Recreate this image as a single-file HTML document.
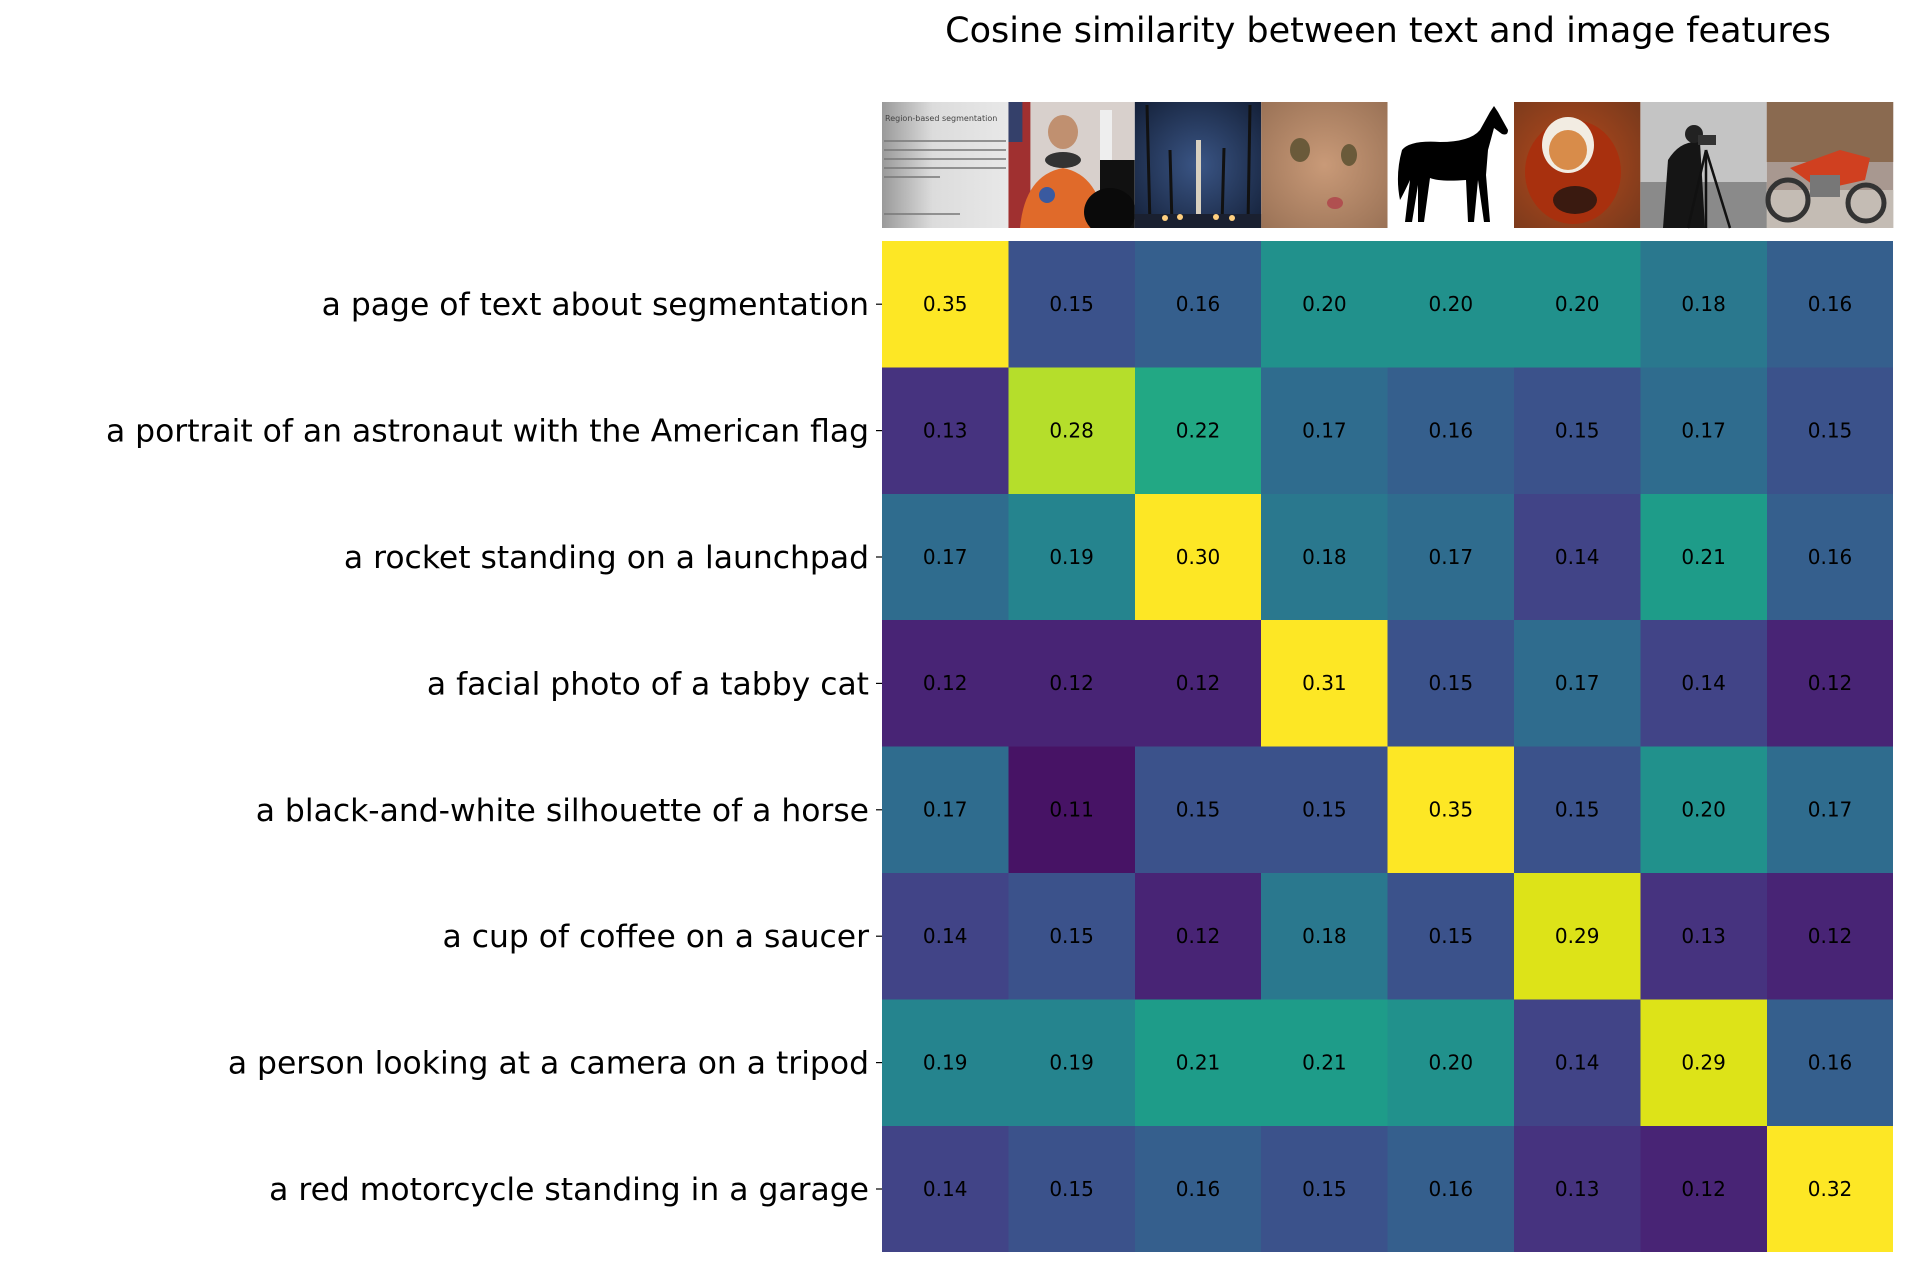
<!DOCTYPE html>
<html><head><meta charset="utf-8"><style>html,body{margin:0;padding:0;background:#fff}svg{display:block}</style></head>
<body>
<svg xmlns="http://www.w3.org/2000/svg" width="1916" height="1280" viewBox="0 0 1916 1280" font-family="DejaVu Sans, Liberation Sans, sans-serif">
<rect width="1916" height="1280" fill="#fff"/>
<text x="1388" y="42" font-size="35" text-anchor="middle" fill="#000">Cosine similarity between text and image features</text>
<defs>
<linearGradient id="pg" x1="0" x2="1"><stop offset="0" stop-color="#9a9a9a"/><stop offset="0.4" stop-color="#dcdcdc"/><stop offset="1" stop-color="#e8e8e8"/></linearGradient>
<radialGradient id="sky" cx="0.5" cy="0.5" r="0.7"><stop offset="0" stop-color="#3a5585"/><stop offset="1" stop-color="#142038"/></radialGradient>
<radialGradient id="cat" cx="0.5" cy="0.5" r="0.7"><stop offset="0" stop-color="#c99a78"/><stop offset="1" stop-color="#9a7256"/></radialGradient>
<radialGradient id="cof" cx="0.45" cy="0.5" r="0.7"><stop offset="0" stop-color="#b84a1c"/><stop offset="1" stop-color="#7a3a1c"/></radialGradient>
<clipPath id="c2"><rect x="1008.4" y="102" width="126.4" height="126"/></clipPath>
</defs>
<g>
<rect x="882" y="102" width="126.4" height="126" fill="url(#pg)"/>
<text x="885" y="121" font-size="8" fill="#444">Region-based segmentation</text>
<g stroke="#777" stroke-width="1.6">
<line x1="884" y1="141" x2="1006" y2="141"/><line x1="884" y1="150" x2="1006" y2="150"/><line x1="884" y1="159" x2="1006" y2="159"/><line x1="884" y1="168" x2="1006" y2="168"/><line x1="884" y1="177" x2="940" y2="177"/><line x1="884" y1="214" x2="960" y2="214"/>
</g>
</g>
<g clip-path="url(#c2)">
<rect x="1008.4" y="102" width="126.4" height="126" fill="#d8d0cc"/>
<rect x="1008.4" y="102" width="22" height="126" fill="#a03030"/>
<rect x="1008.4" y="102" width="14" height="40" fill="#34406a"/>
<rect x="1100" y="110" width="12" height="55" fill="#eee"/>
<rect x="1100" y="160" width="34.8" height="68" fill="#111"/>
<ellipse cx="1063" cy="132" rx="15" ry="17" fill="#c09070"/>
<path d="M1020 228 Q1025 175 1063 168 Q1100 175 1105 228 Z" fill="#e06a2a"/>
<ellipse cx="1063" cy="160" rx="18" ry="8" fill="#333"/>
<ellipse cx="1110" cy="212" rx="26" ry="24" fill="#0a0a0a"/>
<circle cx="1047" cy="195" r="8" fill="#3a5aa0"/>
</g>
<g>
<rect x="1134.8" y="102" width="126.4" height="126" fill="url(#sky)"/>
<rect x="1196" y="140" width="5" height="82" fill="#d8d0c0"/>
<g stroke="#111" stroke-width="3"><line x1="1147" y1="105" x2="1150" y2="225"/><line x1="1250" y1="105" x2="1248" y2="225"/><line x1="1170" y1="150" x2="1172" y2="225"/><line x1="1224" y1="148" x2="1222" y2="225"/></g>
<rect x="1134.8" y="214" width="126.4" height="14" fill="#1a2030"/>
<g fill="#ffd080"><circle cx="1165" cy="218" r="3"/><circle cx="1180" cy="217" r="3"/><circle cx="1216" cy="217" r="3"/><circle cx="1232" cy="218" r="3"/></g>
</g>
<g>
<rect x="1261.2" y="102" width="126.4" height="126" fill="url(#cat)"/>
<ellipse cx="1300" cy="150" rx="10" ry="12" fill="#6a5a3a"/>
<ellipse cx="1349" cy="155" rx="8" ry="11" fill="#6a5a3a"/>
<ellipse cx="1335" cy="203" rx="8" ry="6" fill="#b05050"/>
</g>
<g>
<rect x="1387.6" y="102" width="126.4" height="126" fill="#fff"/>
<path d="M1402 150 Q1410 140 1440 142 Q1470 142 1480 130 L1490 112 L1494 106 L1498 112 L1508 130 Q1508 136 1502 134 L1494 128 L1488 150 L1486 175 L1490 222 L1484 222 L1478 180 L1474 222 L1468 222 L1466 180 Q1440 182 1430 178 L1424 222 L1418 222 L1418 185 L1412 222 L1405 222 L1410 180 Q1403 195 1400 200 Q1395 175 1402 150 Z" fill="#000"/>
</g>
<g>
<rect x="1514" y="102" width="126.4" height="126" fill="url(#cof)"/>
<ellipse cx="1573" cy="172" rx="48" ry="52" fill="#a8300e"/>
<ellipse cx="1568" cy="145" rx="26" ry="28" fill="#f2ece2"/>
<ellipse cx="1568" cy="150" rx="19" ry="20" fill="#d88c4a"/>
<ellipse cx="1575" cy="200" rx="22" ry="14" fill="#3a1a10"/>
</g>
<g>
<rect x="1640.4" y="102" width="126.4" height="126" fill="#c4c4c4"/>
<rect x="1640.4" y="182" width="126.4" height="46" fill="#8a8a8a"/>
<path d="M1663 228 L1668 160 Q1680 140 1700 142 L1705 228 Z" fill="#151515"/>
<circle cx="1694" cy="134" r="9" fill="#222"/>
<rect x="1698" y="135" width="18" height="10" fill="#333"/>
<g stroke="#111" stroke-width="2.5"><line x1="1706" y1="150" x2="1688" y2="228"/><line x1="1706" y1="150" x2="1730" y2="228"/><line x1="1706" y1="150" x2="1706" y2="228"/></g>
</g>
<g>
<rect x="1766.8" y="102" width="126.4" height="126" fill="#a89890"/>
<rect x="1766.8" y="102" width="126.4" height="60" fill="#8a6a50"/>
<rect x="1766.8" y="190" width="126.4" height="38" fill="#c4bcb4"/>
<circle cx="1788" cy="200" r="20" fill="none" stroke="#333" stroke-width="5"/>
<circle cx="1866" cy="203" r="18" fill="none" stroke="#333" stroke-width="5"/>
<path d="M1790 168 L1840 150 L1870 158 L1865 180 L1820 190 Z" fill="#d04020"/>
<rect x="1810" y="175" width="30" height="22" fill="#777"/>
</g>
<g font-size="20" text-anchor="middle" fill="#000" shape-rendering="crispEdges">
<rect x="882" y="241" width="126.4" height="126.4" fill="#fde725"/><text x="945.2" y="311">0.35</text>
<rect x="1008.4" y="241" width="126.4" height="126.4" fill="#3b528b"/><text x="1071.6" y="311">0.15</text>
<rect x="1134.8" y="241" width="126.4" height="126.4" fill="#355f8d"/><text x="1198" y="311">0.16</text>
<rect x="1261.2" y="241" width="126.4" height="126.4" fill="#21918c"/><text x="1324.4" y="311">0.20</text>
<rect x="1387.6" y="241" width="126.4" height="126.4" fill="#21918c"/><text x="1450.8" y="311">0.20</text>
<rect x="1514" y="241" width="126.4" height="126.4" fill="#21918c"/><text x="1577.2" y="311">0.20</text>
<rect x="1640.4" y="241" width="126.4" height="126.4" fill="#2a788e"/><text x="1703.6" y="311">0.18</text>
<rect x="1766.8" y="241" width="126.4" height="126.4" fill="#355f8d"/><text x="1830" y="311">0.16</text>
<rect x="882" y="367.4" width="126.4" height="126.4" fill="#46337f"/><text x="945.2" y="437.4">0.13</text>
<rect x="1008.4" y="367.4" width="126.4" height="126.4" fill="#b5de2b"/><text x="1071.6" y="437.4">0.28</text>
<rect x="1134.8" y="367.4" width="126.4" height="126.4" fill="#22a884"/><text x="1198" y="437.4">0.22</text>
<rect x="1261.2" y="367.4" width="126.4" height="126.4" fill="#2f6c8e"/><text x="1324.4" y="437.4">0.17</text>
<rect x="1387.6" y="367.4" width="126.4" height="126.4" fill="#355f8d"/><text x="1450.8" y="437.4">0.16</text>
<rect x="1514" y="367.4" width="126.4" height="126.4" fill="#3b528b"/><text x="1577.2" y="437.4">0.15</text>
<rect x="1640.4" y="367.4" width="126.4" height="126.4" fill="#2f6c8e"/><text x="1703.6" y="437.4">0.17</text>
<rect x="1766.8" y="367.4" width="126.4" height="126.4" fill="#3b528b"/><text x="1830" y="437.4">0.15</text>
<rect x="882" y="493.8" width="126.4" height="126.4" fill="#2f6c8e"/><text x="945.2" y="563.8">0.17</text>
<rect x="1008.4" y="493.8" width="126.4" height="126.4" fill="#25848e"/><text x="1071.6" y="563.8">0.19</text>
<rect x="1134.8" y="493.8" width="126.4" height="126.4" fill="#fde725"/><text x="1198" y="563.8">0.30</text>
<rect x="1261.2" y="493.8" width="126.4" height="126.4" fill="#2a788e"/><text x="1324.4" y="563.8">0.18</text>
<rect x="1387.6" y="493.8" width="126.4" height="126.4" fill="#2f6c8e"/><text x="1450.8" y="563.8">0.17</text>
<rect x="1514" y="493.8" width="126.4" height="126.4" fill="#414487"/><text x="1577.2" y="563.8">0.14</text>
<rect x="1640.4" y="493.8" width="126.4" height="126.4" fill="#1e9c89"/><text x="1703.6" y="563.8">0.21</text>
<rect x="1766.8" y="493.8" width="126.4" height="126.4" fill="#355f8d"/><text x="1830" y="563.8">0.16</text>
<rect x="882" y="620.2" width="126.4" height="126.4" fill="#482475"/><text x="945.2" y="690.2">0.12</text>
<rect x="1008.4" y="620.2" width="126.4" height="126.4" fill="#482475"/><text x="1071.6" y="690.2">0.12</text>
<rect x="1134.8" y="620.2" width="126.4" height="126.4" fill="#482475"/><text x="1198" y="690.2">0.12</text>
<rect x="1261.2" y="620.2" width="126.4" height="126.4" fill="#fde725"/><text x="1324.4" y="690.2">0.31</text>
<rect x="1387.6" y="620.2" width="126.4" height="126.4" fill="#3b528b"/><text x="1450.8" y="690.2">0.15</text>
<rect x="1514" y="620.2" width="126.4" height="126.4" fill="#2f6c8e"/><text x="1577.2" y="690.2">0.17</text>
<rect x="1640.4" y="620.2" width="126.4" height="126.4" fill="#414487"/><text x="1703.6" y="690.2">0.14</text>
<rect x="1766.8" y="620.2" width="126.4" height="126.4" fill="#482475"/><text x="1830" y="690.2">0.12</text>
<rect x="882" y="746.6" width="126.4" height="126.4" fill="#2f6c8e"/><text x="945.2" y="816.6">0.17</text>
<rect x="1008.4" y="746.6" width="126.4" height="126.4" fill="#471365"/><text x="1071.6" y="816.6">0.11</text>
<rect x="1134.8" y="746.6" width="126.4" height="126.4" fill="#3b528b"/><text x="1198" y="816.6">0.15</text>
<rect x="1261.2" y="746.6" width="126.4" height="126.4" fill="#3b528b"/><text x="1324.4" y="816.6">0.15</text>
<rect x="1387.6" y="746.6" width="126.4" height="126.4" fill="#fde725"/><text x="1450.8" y="816.6">0.35</text>
<rect x="1514" y="746.6" width="126.4" height="126.4" fill="#3b528b"/><text x="1577.2" y="816.6">0.15</text>
<rect x="1640.4" y="746.6" width="126.4" height="126.4" fill="#21918c"/><text x="1703.6" y="816.6">0.20</text>
<rect x="1766.8" y="746.6" width="126.4" height="126.4" fill="#2f6c8e"/><text x="1830" y="816.6">0.17</text>
<rect x="882" y="873" width="126.4" height="126.4" fill="#414487"/><text x="945.2" y="943">0.14</text>
<rect x="1008.4" y="873" width="126.4" height="126.4" fill="#3b528b"/><text x="1071.6" y="943">0.15</text>
<rect x="1134.8" y="873" width="126.4" height="126.4" fill="#482475"/><text x="1198" y="943">0.12</text>
<rect x="1261.2" y="873" width="126.4" height="126.4" fill="#2a788e"/><text x="1324.4" y="943">0.18</text>
<rect x="1387.6" y="873" width="126.4" height="126.4" fill="#3b528b"/><text x="1450.8" y="943">0.15</text>
<rect x="1514" y="873" width="126.4" height="126.4" fill="#dde318"/><text x="1577.2" y="943">0.29</text>
<rect x="1640.4" y="873" width="126.4" height="126.4" fill="#46337f"/><text x="1703.6" y="943">0.13</text>
<rect x="1766.8" y="873" width="126.4" height="126.4" fill="#482475"/><text x="1830" y="943">0.12</text>
<rect x="882" y="999.4" width="126.4" height="126.4" fill="#25848e"/><text x="945.2" y="1069.4">0.19</text>
<rect x="1008.4" y="999.4" width="126.4" height="126.4" fill="#25848e"/><text x="1071.6" y="1069.4">0.19</text>
<rect x="1134.8" y="999.4" width="126.4" height="126.4" fill="#1e9c89"/><text x="1198" y="1069.4">0.21</text>
<rect x="1261.2" y="999.4" width="126.4" height="126.4" fill="#1e9c89"/><text x="1324.4" y="1069.4">0.21</text>
<rect x="1387.6" y="999.4" width="126.4" height="126.4" fill="#21918c"/><text x="1450.8" y="1069.4">0.20</text>
<rect x="1514" y="999.4" width="126.4" height="126.4" fill="#414487"/><text x="1577.2" y="1069.4">0.14</text>
<rect x="1640.4" y="999.4" width="126.4" height="126.4" fill="#dde318"/><text x="1703.6" y="1069.4">0.29</text>
<rect x="1766.8" y="999.4" width="126.4" height="126.4" fill="#355f8d"/><text x="1830" y="1069.4">0.16</text>
<rect x="882" y="1125.8" width="126.4" height="126.4" fill="#414487"/><text x="945.2" y="1195.8">0.14</text>
<rect x="1008.4" y="1125.8" width="126.4" height="126.4" fill="#3b528b"/><text x="1071.6" y="1195.8">0.15</text>
<rect x="1134.8" y="1125.8" width="126.4" height="126.4" fill="#355f8d"/><text x="1198" y="1195.8">0.16</text>
<rect x="1261.2" y="1125.8" width="126.4" height="126.4" fill="#3b528b"/><text x="1324.4" y="1195.8">0.15</text>
<rect x="1387.6" y="1125.8" width="126.4" height="126.4" fill="#355f8d"/><text x="1450.8" y="1195.8">0.16</text>
<rect x="1514" y="1125.8" width="126.4" height="126.4" fill="#46337f"/><text x="1577.2" y="1195.8">0.13</text>
<rect x="1640.4" y="1125.8" width="126.4" height="126.4" fill="#482475"/><text x="1703.6" y="1195.8">0.12</text>
<rect x="1766.8" y="1125.8" width="126.4" height="126.4" fill="#fde725"/><text x="1830" y="1195.8">0.32</text>
</g>
<g stroke="#000" stroke-width="1.2">
<line x1="876" y1="304.2" x2="882" y2="304.2"/><line x1="876" y1="430.6" x2="882" y2="430.6"/><line x1="876" y1="557" x2="882" y2="557"/><line x1="876" y1="683.4" x2="882" y2="683.4"/><line x1="876" y1="809.8" x2="882" y2="809.8"/><line x1="876" y1="936.2" x2="882" y2="936.2"/><line x1="876" y1="1062.6" x2="882" y2="1062.6"/><line x1="876" y1="1189" x2="882" y2="1189"/>
</g>
<g font-size="31.4" text-anchor="end" fill="#000">
<text x="869" y="315.2">a page of text about segmentation</text>
<text x="869" y="441.6">a portrait of an astronaut with the American flag</text>
<text x="869" y="568">a rocket standing on a launchpad</text>
<text x="869" y="694.4">a facial photo of a tabby cat</text>
<text x="869" y="820.8">a black-and-white silhouette of a horse</text>
<text x="869" y="947.2">a cup of coffee on a saucer</text>
<text x="869" y="1073.6">a person looking at a camera on a tripod</text>
<text x="869" y="1200">a red motorcycle standing in a garage</text>
</g>
</svg>
</body></html>
